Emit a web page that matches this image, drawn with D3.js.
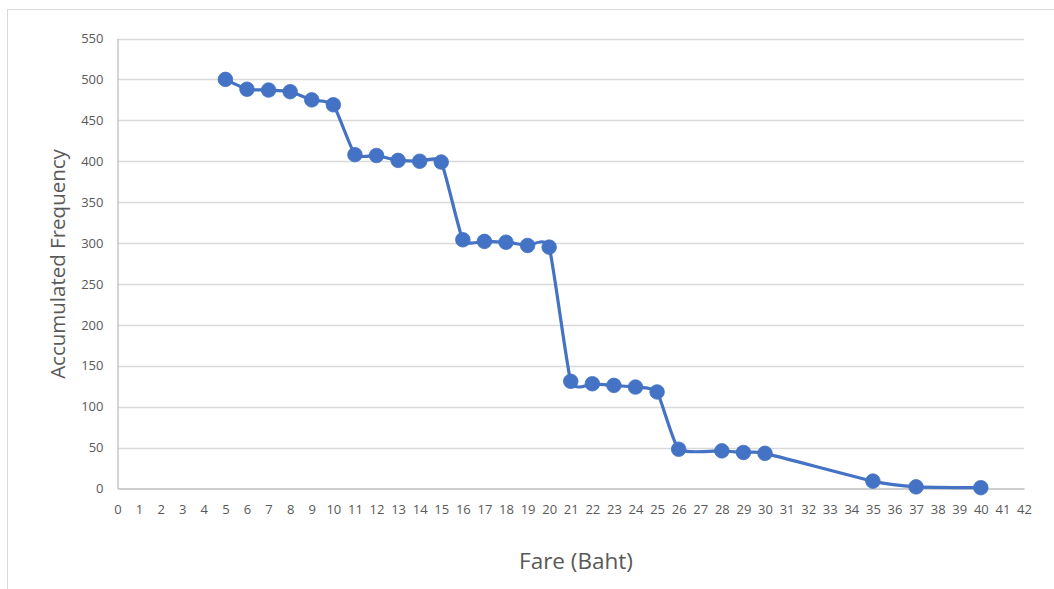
<!DOCTYPE html>
<html>
<head>
<meta charset="utf-8">
<script src="https://cdn.jsdelivr.net/npm/d3@7"></script>
<style>
  html, body { margin: 0; padding: 0; background: #fff; }
  svg { display: block; }
</style>
</head>
<body>
<svg id="chart" width="1054" height="589"></svg>
<script>
// Fare (Baht) and the accumulated number of passengers at or above each fare
const fares = [5, 6, 7, 8, 9, 10, 11, 12, 13, 14, 15, 16, 17, 18, 19, 20, 21, 22, 23, 24, 25, 26, 28, 29, 30, 35, 37, 40];
const accumulated = [500, 488, 487, 485, 475, 469, 408, 407, 401, 400, 399, 304, 302, 301, 297, 295, 131, 128, 126, 124, 118, 48, 46, 44, 43, 9, 2, 1];
const xTicks = d3.range(0, 43, 1);
const yTicks = d3.range(0, 551, 50);
const xTitle = "Fare (Baht)";
const yTitle = "Accumulated Frequency";

const svg = d3.select("#chart");
const W = 1054, H = 589;
const plot = { left: 117.5, right: 1024, top: 38.5, bottom: 488.5 };
const font = "'Open Sans', 'Segoe UI', sans-serif";

// outer chart frame
svg.append("rect")
  .attr("x", 7.5).attr("y", 9.5)
  .attr("width", W + 10).attr("height", H + 10)
  .attr("fill", "#fff").attr("stroke", "#d9d9d9").attr("stroke-width", 1);

const x = d3.scaleLinear().domain([0, 42]).range([plot.left, plot.right]);
const y = d3.scaleLinear().domain([0, 550]).range([plot.bottom, plot.top]);

// horizontal gridlines
svg.append("g")
  .selectAll("line")
  .data(yTicks.filter(d => d > 0))
  .join("line")
  .attr("x1", plot.left).attr("x2", plot.right)
  .attr("y1", d => Math.round(y(d)) + 0.5).attr("y2", d => Math.round(y(d)) + 0.5)
  .attr("stroke", "#d9d9d9").attr("stroke-width", 1.3);

// y axis
const yAxis = svg.append("g")
  .attr("transform", `translate(${plot.left},0)`)
  .call(d3.axisLeft(y).tickValues(yTicks).tickSize(0).tickPadding(14));
yAxis.select(".domain").attr("stroke", "#bfbfbf").attr("stroke-width", 1.3);
yAxis.selectAll("text")
  .attr("fill", "#595959").style("font-family", font).style("font-size", "13px");

// x axis
const xAxis = svg.append("g")
  .attr("transform", `translate(0,${plot.bottom})`)
  .call(d3.axisBottom(x).tickValues(xTicks).tickSize(0).tickPadding(16));
xAxis.select(".domain").attr("stroke", "#bfbfbf").attr("stroke-width", 1.3);
xAxis.selectAll("text")
  .attr("fill", "#595959").style("font-family", font).style("font-size", "13px");

// axis titles
svg.append("text")
  .attr("x", 576)
  .attr("y", 569)
  .attr("text-anchor", "middle")
  .attr("fill", "#595959")
  .style("font-family", font).style("font-size", "22.5px")
  .text(xTitle);

svg.append("text")
  .attr("transform", `translate(65,${264}) rotate(-90)`)
  .attr("text-anchor", "middle")
  .attr("fill", "#595959")
  .style("font-family", font).style("font-size", "20.5px")
  .text(yTitle);

// smoothed series line with markers
const data = fares.map((f, i) => ({ f, v: accumulated[i] }));
const line = d3.line()
  .x(d => x(d.f)).y(d => y(d.v))
  .curve(d3.curveCardinal.tension(0.5));

svg.append("path")
  .datum(data)
  .attr("d", line)
  .attr("fill", "none")
  .attr("stroke", "#4472c4")
  .attr("stroke-width", 3.2)
  .attr("stroke-linejoin", "round");

svg.append("g")
  .selectAll("circle")
  .data(data)
  .join("circle")
  .attr("cx", d => x(d.f)).attr("cy", d => y(d.v))
  .attr("r", 7.3)
  .attr("fill", "#4472c4")
  .attr("stroke", "#4472c4").attr("stroke-width", 0.8);
</script>
</body>
</html>
